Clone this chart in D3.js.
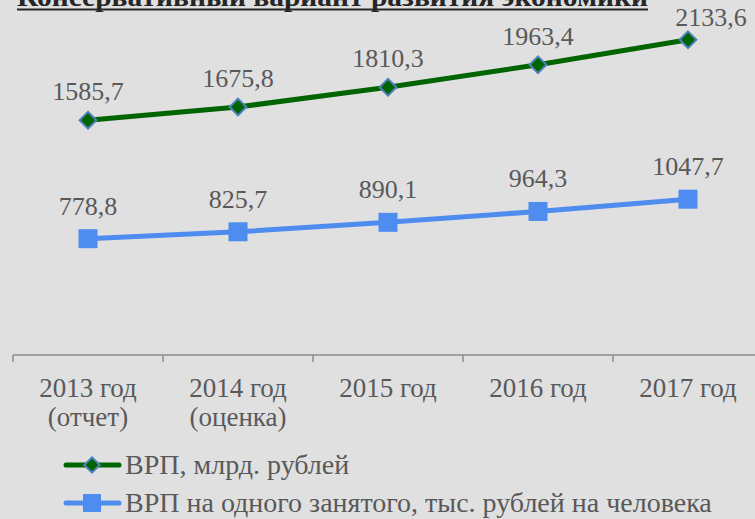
<!DOCTYPE html>
<html>
<head>
<meta charset="utf-8">
<script src="https://cdn.jsdelivr.net/npm/d3@7"></script>
<style>
  html, body { margin: 0; padding: 0; background: #e0e0e0; }
  svg { display: block; }
</style>
</head>
<body>
<div id="chart"></div>
<script>
// data
const categories = ["2013 год|(отчет)", "2014 год|(оценка)", "2015 год", "2016 год", "2017 год"];
const grpTotal = [1585.7, 1675.8, 1810.3, 1963.4, 2133.6];
const grpPerWorker = [778.8, 825.7, 890.1, 964.3, 1047.7];
const seriesNames = ["ВРП, млрд. рублей", "ВРП на одного занятого, тыс. рублей на человека"];
const title = "Консервативный вариант развития экономики";

const width = 755, height = 519;
const green = "#006400", blue = "#4f8cf0", textCol = "#595959";
const font = '"Liberation Serif", "Times New Roman", serif';

const svg = d3.select("#chart").append("svg")
  .attr("width", width).attr("height", height);

svg.append("rect").attr("width", width).attr("height", height).attr("fill", "#e0e0e0");

// scales
const x = d3.scaleBand().domain(categories).range([13, 763]);
const y = d3.scaleLinear().domain([0, 2500]).range([353, -14]);
const cx = d => x(d) + x.bandwidth() / 2;

// title (cut off at the top in the original)
svg.append("text")
  .attr("x", 17).attr("y", 6)
  .style("font-family", font)
  .attr("font-size", 27).attr("font-weight", "bold")
  .attr("fill", "#262626")
  .attr("textLength", 631).attr("lengthAdjust", "spacingAndGlyphs")
  .text(title);
svg.append("line")
  .attr("x1", 17).attr("x2", 648).attr("y1", 9.5).attr("y2", 9.5)
  .attr("stroke", "#262626").attr("stroke-width", 2);

// x axis
const axis = svg.append("g").attr("transform", "translate(0,355)");
axis.append("line").attr("x1", 13).attr("x2", width).attr("stroke", "#8c8c8c").attr("stroke-width", 1.5);
axis.selectAll(".tick").data(categories).enter().append("line")
  .attr("x1", d => x(d)).attr("x2", d => x(d))
  .attr("y1", 0).attr("y2", 7)
  .attr("stroke", "#8c8c8c").attr("stroke-width", 1.5);

const labels = svg.append("g").selectAll("text").data(categories).enter().append("text")
  .attr("text-anchor", "middle")
  .style("font-family", font)
  .attr("font-size", 27).attr("fill", textCol);
labels.each(function(d) {
  const lines = d.split("|");
  lines.forEach((l, i) => {
    d3.select(this).append("tspan")
      .attr("x", cx(d)).attr("y", 397 + i * 29)
      .text(l);
  });
});

const line = d3.line().x((d, i) => cx(categories[i])).y(d => y(d));

function drawSeries(vals, color, marker, labelOffset) {
  svg.append("path").datum(vals)
    .attr("d", line).attr("fill", "none")
    .attr("stroke", color).attr("stroke-width", 5);
  const g = svg.append("g");
  vals.forEach((v, i) => {
    const px = cx(categories[i]), py = y(v);
    if (marker === "diamond") {
      g.append("path")
        .attr("d", d3.symbol(d3.symbolDiamond2, 180)())
        .attr("transform", `translate(${px},${py})`)
        .attr("fill", green).attr("stroke", "#4f81bd").attr("stroke-width", 2);
    } else {
      g.append("rect")
        .attr("x", px - 9.5).attr("y", py - 9.5)
        .attr("width", 19).attr("height", 19).attr("fill", blue);
    }
    // labels too close to the top are pushed down and shifted right
    const ly = py - labelOffset;
    const clamped = ly < 26;
    svg.append("text")
      .attr("x", clamped ? px + 23 : px).attr("y", clamped ? 26 : ly)
      .attr("text-anchor", "middle")
      .style("font-family", font)
      .attr("font-size", 26).attr("fill", textCol)
      .text(d3.format(".1f")(v).replace(".", ","));
  });
}

drawSeries(grpTotal, green, "diamond", 20);
drawSeries(grpPerWorker, blue, "square", 24);

// legend
const legend = svg.append("g");
const legRows = [
  { name: seriesNames[0], color: green, marker: "diamond", y: 465 },
  { name: seriesNames[1], color: blue, marker: "square", y: 503 }
];
legRows.forEach(r => {
  legend.append("line").attr("x1", 66).attr("x2", 119).attr("y1", r.y).attr("y2", r.y)
    .attr("stroke", r.color).attr("stroke-width", 5).attr("stroke-linecap", "round");
  if (r.marker === "diamond") {
    legend.append("path")
      .attr("d", d3.symbol(d3.symbolDiamond2, 150)())
      .attr("transform", `translate(92,${r.y})`)
      .attr("fill", green).attr("stroke", "#4f81bd").attr("stroke-width", 2);
  } else {
    legend.append("rect").attr("x", 83).attr("y", r.y - 9).attr("width", 18).attr("height", 18).attr("fill", blue);
  }
  legend.append("text").attr("x", 125).attr("y", r.y + 9)
    .style("font-family", font)
    .attr("font-size", 28).attr("fill", textCol).text(r.name);
});
</script>
</body>
</html>
